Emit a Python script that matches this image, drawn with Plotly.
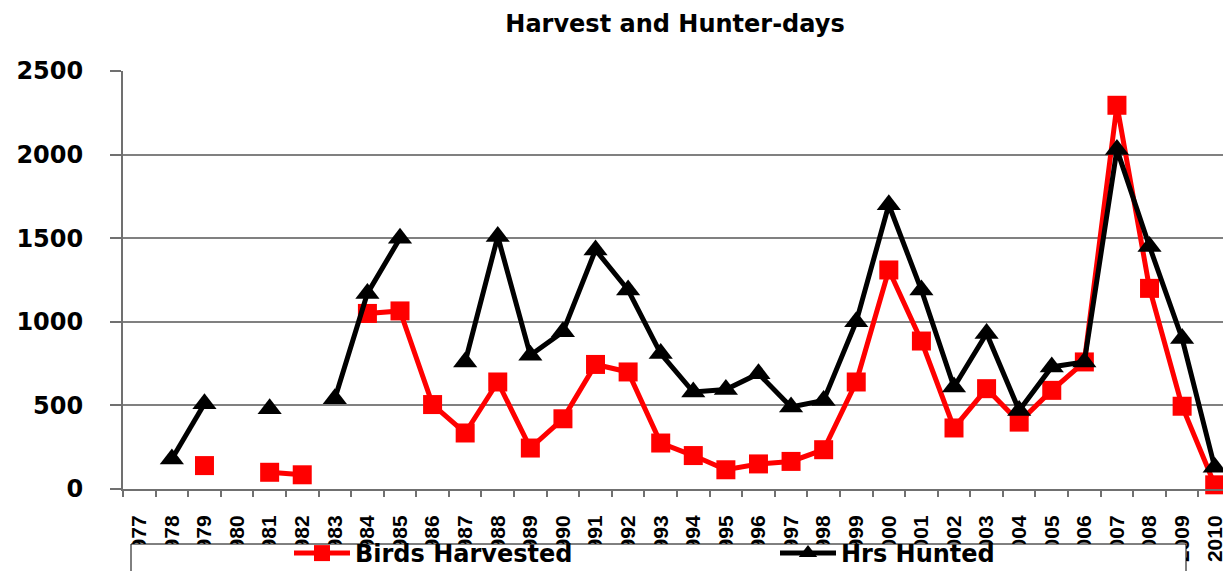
import plotly.graph_objects as go

# Years on the category axis.
years = [str(y) for y in range(1977, 2011)]

# Birds harvested per season (None = no data that year).
birds_harvested = [None, None, 140, None, 100, 85, None, 1050, 1065, 505,
                   335, 640, 245, 420, 745, 700, 275, 200, 115, 150,
                   165, 235, 640, 1310, 885, 365, 600, 400, 590, 760,
                   2295, 1200, 495, 25]

# Hours hunted per season.
hrs_hunted = [None, 180, 510, None, 480, None, 540, 1170, 1500, None,
              760, 1510, 800, 940, 1430, 1190, 810, 580, 595, 690,
              490, 530, 1000, 1700, 1190, 610, 930, 470, 730, 760,
              2030, 1450, 900, 130]

y_ticks = [0, 500, 1000, 1500, 2000, 2500]

# The page body adds an 8px margin, so the figure is a bit smaller
# and all pixel positions below are measured in figure coordinates.
OFF = 8
W, H = 1231 - OFF, 571 - OFF
L, R, T, B = 123 - OFF, 0, 71 - OFF, 571 - 489
pw, ph = W - L - R, H - T - B


def px_x(p):
    # p is a position in the screenshot
    return (p - OFF - L) / pw


def px_y(p):
    return (H - B - (p - OFF)) / ph


bold = dict(family='DejaVu Sans', color='black', weight='bold')

fig = go.Figure()
fig.add_trace(go.Scatter(
    x=years, y=birds_harvested, name='Birds Harvested', mode='lines+markers',
    line=dict(color='#ff0000', width=5),
    marker=dict(symbol='square', size=19, color='#ff0000'),
    cliponaxis=False, legend='legend'))
fig.add_trace(go.Scatter(
    x=years, y=hrs_hunted, name='Hrs Hunted', mode='lines+markers',
    line=dict(color='black', width=5),
    marker=dict(symbol='triangle-up', size=21, color='black'),
    cliponaxis=False, legend='legend2'))

# White legend frame that hides the lower part of the year labels.
fig.add_shape(type='rect', xref='paper', yref='paper', layer='above',
              x0=px_x(131), x1=px_x(1186), y0=px_y(544), y1=px_y(600),
              fillcolor='white', line=dict(color='black', width=1))

legend_style = dict(orientation='h', xanchor='left', yanchor='top',
                    bgcolor='rgba(0,0,0,0)', borderwidth=0, itemwidth=56,
                    font=dict(size=24, **bold))

fig.update_layout(
    width=W, height=H,
    margin=dict(l=L, r=R, t=T, b=B, pad=0, autoexpand=False),
    paper_bgcolor='white', plot_bgcolor='white',
    title=dict(text='Harvest and Hunter-days', x=(675 - OFF) / W, y=1, pad=dict(t=7),
               xref='container', yref='container', xanchor='center', yanchor='top',
               font=dict(size=24, **bold)),
    xaxis=dict(type='category', range=[-0.5, 33.5], showgrid=False,
               showline=True, linecolor='#707070', linewidth=2,
               ticks='outside', tickson='boundaries', ticklen=6, tickcolor='#707070',
               tickwidth=1.5, tickangle=-90, ticklabelstandoff=16,
               tickfont=dict(size=21, family='Liberation Sans',
                             color='black', weight='bold')),
    yaxis=dict(range=[0, 2500], tickvals=y_ticks, showgrid=True,
               gridcolor='#808080', gridwidth=1.5, zeroline=False,
               showline=True, linecolor='#707070', linewidth=2,
               ticks='outside', ticklen=11, tickcolor='#707070', tickwidth=1.5,
               ticklabelstandoff=22, tickfont=dict(size=24, **bold)),
    showlegend=True,
    legend=dict(x=px_x(289), y=px_y(531), **legend_style),
    legend2=dict(x=px_x(775), y=px_y(531), **legend_style),
)

fig.write_html('out.html')
